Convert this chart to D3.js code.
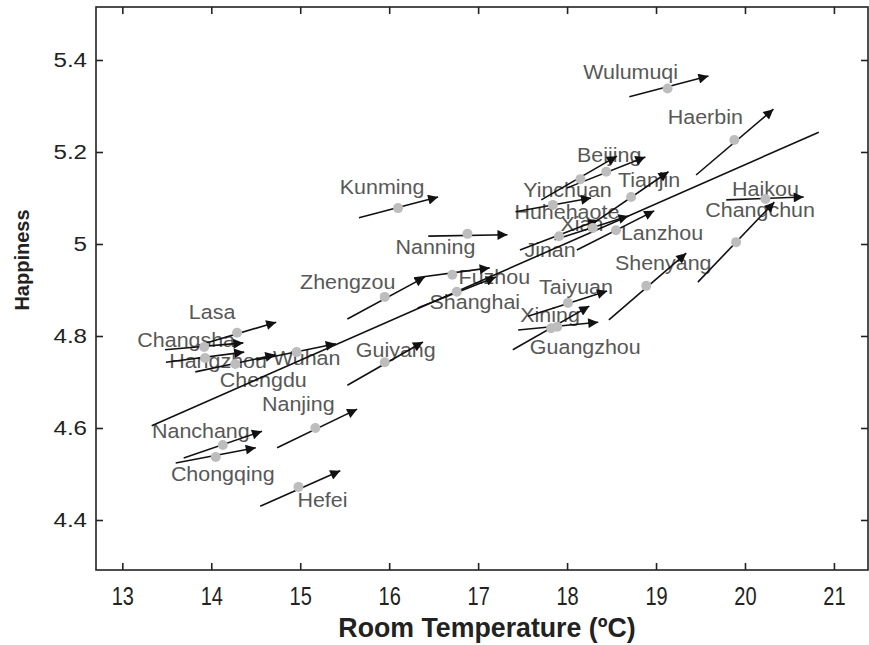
<!DOCTYPE html>
<html><head><meta charset="utf-8">
<script src="https://cdn.jsdelivr.net/npm/d3@7"></script>
<style>
html,body{margin:0;padding:0;background:#fff;}
svg{display:block;}
</style></head>
<body>
<script>
// ---- data ----
const cities = ["Wulumuqi","Haerbin","Haikou","Changchun","Shenyang","Kunming","Nanning","Zhengzou","Fuzhou","Shanghai","Taiyuan","Xining","Guangzhou","Lasa","Changsha","Hangzhou","Chengdu","Wuhan","Guiyang","Nanjing","Nanchang","Chongqing","Hefei","Beijing","Yinchuan","Tianjin","Huhehaote","Xian","Lanzhou","Jinan"];
// city mean room temperature (°C) and happiness (grey dots)
const temp  = [19.13,19.88,20.23,19.90,18.89,16.10,16.88,15.95,16.71,16.76,18.01,17.82,17.89,14.29,13.92,13.93,14.27,14.96,15.95,15.17,14.13,14.05,14.98,18.44,18.15,18.72,17.84,18.29,18.55,17.91];
const happy = [5.338,5.226,5.098,5.004,4.909,5.078,5.022,4.885,4.933,4.896,4.872,4.817,4.820,4.807,4.776,4.752,4.739,4.765,4.743,4.600,4.563,4.537,4.472,5.157,5.141,5.102,5.085,5.035,5.030,5.017];
// within-city slope arrows: start and end (temperature, happiness)
const arrowT0 = [18.70,19.45,19.79,19.47,18.47,15.66,16.44,15.53,16.28,16.32,17.56,17.39,17.45,13.86,13.48,13.49,13.82,14.51,15.53,14.74,13.69,13.60,14.55,18.00,17.71,18.28,17.42,17.86,18.11,17.47];
const arrowH0 = [5.320,5.150,5.096,4.917,4.835,5.057,5.017,4.837,4.926,4.861,4.843,4.770,4.813,4.780,4.770,4.743,4.722,4.748,4.693,4.557,4.535,4.524,4.430,5.122,5.096,5.043,5.070,5.009,4.987,4.987];
const arrowT1 = [19.59,20.32,20.66,20.33,19.34,16.55,17.33,16.40,17.13,17.20,18.45,18.25,18.35,14.73,14.36,14.37,14.72,15.40,16.38,15.64,14.57,14.50,15.45,18.88,18.56,19.14,18.27,18.69,18.98,18.35];
const arrowH1 = [5.365,5.293,5.102,5.091,4.980,5.102,5.020,4.928,4.948,4.928,4.898,4.865,4.830,4.830,4.785,4.765,4.759,4.783,4.787,4.641,4.593,4.557,4.507,5.189,5.191,5.157,5.100,5.061,5.072,5.052];
// across-city fitted line (start, end)
const fitT = [13.33, 20.83];
const fitH = [4.605, 5.243];
// axis ticks
const xTicks = [13,14,15,16,17,18,19,20,21];
const yTicks = [4.4,4.6,4.8,5.0,5.2,5.4];
// label offsets (pixels from dot, layout only)
const labelDX = [-37,-29,0,24,17,-16,-32,-37,42,18,8,-1,28,-25,-18,13,28,10,11,-17,-22,7,24,3,-13,18,14,-11,46,-9];
const labelDY = [-17,-23,-10,-32,-23,-21,13,-15,2,10,-16,-13,20,-21,-7,3,16,6,-12,-24,-14,17,13,-17,11,-17,7,-4,3,14];

// ---- drawing ----
const W = 869, H = 645;
const L = 96, R = 868, T = 7, B = 570;
const x = d3.scaleLinear().domain([12.704, 21.383]).range([L, R]);
const y = d3.scaleLinear().domain([4.2913, 5.5152]).range([B, T]);

const svg = d3.select("body").append("svg").attr("width", W).attr("height", H)
  .style("font-family", "'Liberation Sans', Arial, Helvetica, sans-serif");

svg.append("defs").append("marker")
  .attr("id", "ah").attr("viewBox", "0 0 10 10").attr("refX", 10).attr("refY", 5)
  .attr("markerUnits", "userSpaceOnUse").attr("markerWidth", 14).attr("markerHeight", 10)
  .attr("orient", "auto")
  .append("path").attr("d", "M0,0 L10,5 L0,10 Z").attr("fill", "#111");

// axes
const axCol = "#222";
const gB = svg.append("g").attr("transform", `translate(0,${B})`)
  .call(d3.axisBottom(x).tickValues(xTicks).tickSizeInner(-7).tickSizeOuter(0).tickPadding(17).tickFormat(d => d));
const gT = svg.append("g").attr("transform", `translate(0,${T})`)
  .call(d3.axisTop(x).tickValues(xTicks).tickSizeInner(-7).tickSizeOuter(0).tickFormat(""));
const gL = svg.append("g").attr("transform", `translate(${L},0)`)
  .call(d3.axisLeft(y).tickValues(yTicks).tickSizeInner(-7).tickSizeOuter(0).tickPadding(9).tickFormat(d => d));
const gR = svg.append("g").attr("transform", `translate(${R},0)`)
  .call(d3.axisRight(y).tickValues(yTicks).tickSizeInner(-7).tickSizeOuter(0).tickFormat(""));
[gB, gT, gL, gR].forEach(g => {
  g.select(".domain").remove();
  g.selectAll(".tick line").attr("stroke", axCol).attr("stroke-width", 1.6);
});
gB.selectAll(".tick text").attr("font-size", 25).attr("fill", "#222")
  .attr("font-family", "'Liberation Sans', Arial, sans-serif")
  .attr("transform", "scale(0.8,1)");
gL.selectAll(".tick text").attr("font-size", 21).attr("fill", "#222")
  .attr("font-family", "'Liberation Sans', Arial, sans-serif")
  .attr("transform", "scale(1.15,1)").attr("x", -9 / 1.15);

svg.append("rect").attr("x", L).attr("y", T).attr("width", R - L).attr("height", B - T)
  .attr("fill", "none").attr("stroke", axCol).attr("stroke-width", 1.6);

// axis titles
svg.append("text").attr("transform", `translate(487,637) scale(0.99,1)`)
  .attr("text-anchor", "middle").attr("font-size", 27).attr("font-weight", "bold").attr("fill", "#222")
  .text("Room Temperature (ºC)");
svg.append("text").attr("transform", `translate(29,260) rotate(-90)`)
  .attr("text-anchor", "middle").attr("font-size", 20).attr("font-weight", "bold").attr("fill", "#222")
  .text("Happiness");

const idx = d3.range(cities.length);

// city labels
svg.append("g").selectAll("text").data(idx).join("text")
  .attr("transform", i => `translate(${x(temp[i]) + labelDX[i]},${y(happy[i]) + labelDY[i] + 7}) scale(1.1,1)`)
  .attr("text-anchor", "middle").attr("font-size", 19.5).attr("fill", "#585858")
  .text(i => cities[i]);

// fitted line
svg.append("line")
  .attr("x1", x(fitT[0])).attr("y1", y(fitH[0])).attr("x2", x(fitT[1])).attr("y2", y(fitH[1]))
  .attr("stroke", "#111").attr("stroke-width", 1.6);

// arrows
svg.append("g").selectAll("line").data(idx).join("line")
  .attr("x1", i => x(arrowT0[i])).attr("y1", i => y(arrowH0[i]))
  .attr("x2", i => x(arrowT1[i])).attr("y2", i => y(arrowH1[i]))
  .attr("stroke", "#111").attr("stroke-width", 1.6).attr("marker-end", "url(#ah)");

// dots
svg.append("g").selectAll("circle").data(idx).join("circle")
  .attr("cx", i => x(temp[i])).attr("cy", i => y(happy[i])).attr("r", 5)
  .attr("fill", "#bdbdbd");
</script>
</body></html>
